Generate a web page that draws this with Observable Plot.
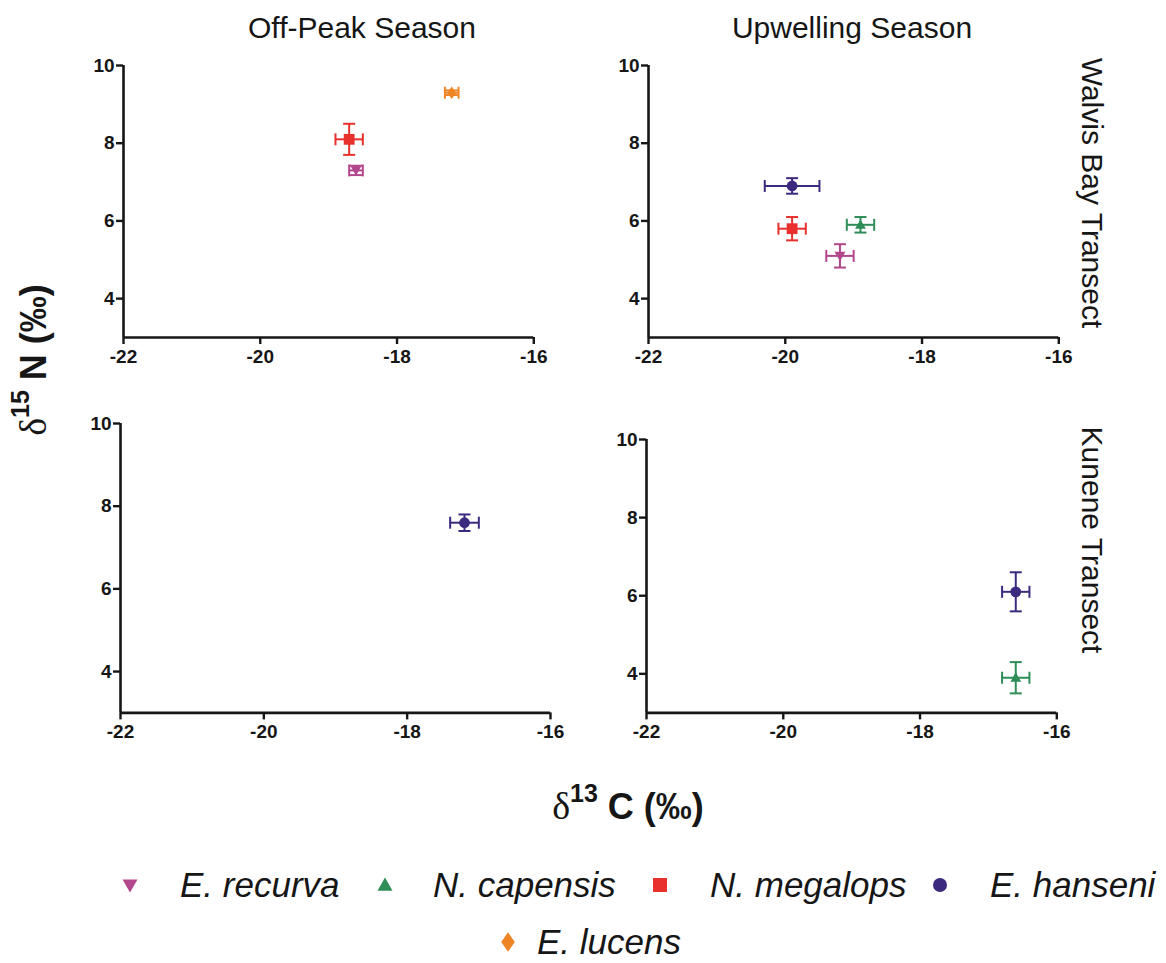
<!DOCTYPE html>
<html><head><meta charset="utf-8">
<script src="https://cdn.jsdelivr.net/npm/d3@7"></script>
<script src="https://cdn.jsdelivr.net/npm/@observablehq/plot@0.6"></script>
<style>
body{margin:0;background:#fff;font-family:"Liberation Sans",Arial,sans-serif;}
#root{position:relative;width:1166px;height:963px;overflow:hidden;background:#fff;color:#161616}
.abs{position:absolute;white-space:nowrap}
.title{font-size:30px;transform:translate(-50%,-50%)}
.side{font-size:30px;transform:translate(-50%,-50%) rotate(90deg)}
.axt{font-size:36px;font-weight:bold;transform:translate(-50%,-50%)}
.axt .d{font-family:"Liberation Serif","Times New Roman",serif;font-weight:normal;font-size:38px}
.axt sup{font-size:25px;position:relative;top:-3px;vertical-align:top;line-height:1}
.leg{font-size:35px;font-style:italic;transform:translateY(-50%)}
</style></head><body><div id="root"></div>
<script>
// ---- data ----
const species = ["E. recurva", "N. capensis", "N. megalops", "E. hanseni", "E. lucens"];
const speciesColors = ["#b3478d", "#2f8d57", "#e8302c", "#3c2a7f", "#ee8424"];
const seasons = ["Off-Peak Season", "Upwelling Season"];
const transects = ["Walvis Bay Transect", "Kunene Transect"];
const xTicks = [-22, -20, -18, -16];
const yTicks = [4, 6, 8, 10];
const xDomain = [-22, -16];
const yDomain = [3, 10];
// observations (mean ± error)
const obsSpecies  = ["N. megalops", "E. recurva", "E. lucens", "E. hanseni", "N. megalops", "N. capensis", "E. recurva", "E. hanseni", "E. hanseni", "N. capensis"];
const obsSeason   = [0, 0, 0, 1, 1, 1, 1, 0, 1, 1];
const obsTransect = [0, 0, 0, 0, 0, 0, 0, 1, 1, 1];
const d13C        = [-18.7, -18.6, -17.2, -19.9, -19.9, -18.9, -19.2, -17.2, -16.6, -16.6];
const d13CErr     = [0.2, 0.1, 0.1, 0.4, 0.2, 0.2, 0.2, 0.2, 0.2, 0.2];
const d15N        = [8.1, 7.3, 9.3, 6.9, 5.8, 5.9, 5.1, 7.6, 6.1, 3.9];
const d15NErr     = [0.4, 0.12, 0.06, 0.2, 0.3, 0.2, 0.3, 0.2, 0.5, 0.4];

const obs = obsSpecies.map((s, i) => ({species: s, season: obsSeason[i], transect: obsTransect[i],
  c: d13C[i], cs: d13CErr[i], n: d15N[i], ns: d15NErr[i]}));

// ---- symbols ----
const rad = size => Math.sqrt(size / Math.PI);
const triDown = {draw(ctx, size){ const r = rad(size); ctx.moveTo(0, r); ctx.lineTo(-r, -0.75*r); ctx.lineTo(r, -0.75*r); ctx.closePath(); }};
const triUp = {draw(ctx, size){ const r = rad(size); ctx.moveTo(0, -r); ctx.lineTo(-r, 0.75*r); ctx.lineTo(r, 0.75*r); ctx.closePath(); }};
const sq = {draw(ctx, size){ const r = rad(size); ctx.rect(-r, -r, 2*r, 2*r); }};
const circ = {draw(ctx, size){ const r = rad(size); ctx.moveTo(r, 0); ctx.arc(0, 0, r, 0, 2*Math.PI); }};
const diam = {draw(ctx, size){ const r = rad(size); ctx.moveTo(0, -r*1.15); ctx.lineTo(r*0.8, 0); ctx.lineTo(0, r*1.15); ctx.lineTo(-r*0.8, 0); ctx.closePath(); }};
const hCap = {draw(ctx, size){ const r = rad(size); ctx.moveTo(-r, 0); ctx.lineTo(r, 0); }};
const vCap = {draw(ctx, size){ const r = rad(size); ctx.moveTo(0, -r); ctx.lineTo(0, r); }};
const symbolOf = {"E. recurva": triDown, "N. capensis": triUp, "N. megalops": sq, "E. hanseni": circ, "E. lucens": diam};

const root = document.getElementById("root");
function addDiv(cls, html, x, y){
  const d = document.createElement("div");
  d.className = "abs " + cls; d.innerHTML = html;
  d.style.left = x + "px"; d.style.top = y + "px";
  root.appendChild(d); return d;
}

// ---- panels (plot frame boxes) ----
const boxes = [
  {s: 0, t: 0, left: 122.7, top: 64.7, w: 410.3, h: 272},
  {s: 1, t: 0, left: 647.7, top: 64.7, w: 410.3, h: 272},
  {s: 0, t: 1, left: 120, top: 423.3, w: 430, h: 289.4},
  {s: 1, t: 1, left: 645.7, top: 439.3, w: 410.3, h: 273.4}
];
const ml = 60, mr = 20, mt = 14, mb = 45;
const ink = "#161616";

for (const b of boxes) {
  const rows = obs.filter(d => d.season === b.s && d.transect === b.t);
  const capStyle = {stroke: "species", strokeWidth: 2, fill: "none", r: 6};
  const marks = [
    Plot.ruleX([xDomain[0]], {stroke: ink, strokeWidth: 2.6}),
    Plot.ruleY([yDomain[0]], {stroke: ink, strokeWidth: 2.6}),
    Plot.axisX({ticks: xTicks, tickSize: 7, tickPadding: 5, tickFormat: d => String(d), label: null,
      fontSize: 19, fontWeight: "bold", stroke: ink, fill: ink, strokeWidth: 2.4}),
    Plot.axisY({ticks: yTicks, tickSize: 7, tickPadding: 2, tickFormat: d => String(d), label: null,
      fontSize: 19, fontWeight: "bold", stroke: ink, fill: ink, strokeWidth: 2.4}),
    Plot.ruleY(rows, {y: "n", x1: d => d.c - d.cs, x2: d => d.c + d.cs, stroke: "species", strokeWidth: 2}),
    Plot.ruleX(rows, {x: "c", y1: d => d.n - d.ns, y2: d => d.n + d.ns, stroke: "species", strokeWidth: 2}),
    Plot.dot(rows, {x: d => d.c - d.cs, y: "n", symbol: vCap, ...capStyle}),
    Plot.dot(rows, {x: d => d.c + d.cs, y: "n", symbol: vCap, ...capStyle}),
    Plot.dot(rows, {x: "c", y: d => d.n - d.ns, symbol: hCap, ...capStyle}),
    Plot.dot(rows, {x: "c", y: d => d.n + d.ns, symbol: hCap, ...capStyle}),
    ...species.map(sp => Plot.dot(rows.filter(d => d.species === sp),
      {x: "c", y: "n", symbol: symbolOf[sp], r: 5.4, fill: "species", stroke: "none"}))
  ];
  const svg = Plot.plot({
    width: b.w + ml + mr, height: b.h + mt + mb,
    marginLeft: ml, marginRight: mr, marginTop: mt, marginBottom: mb,
    x: {domain: xDomain}, y: {domain: yDomain},
    color: {domain: species, range: speciesColors},
    style: {fontFamily: "'Liberation Sans', Arial, sans-serif", background: "transparent", overflow: "visible"},
    marks
  });
  svg.style.position = "absolute";
  svg.style.left = (b.left - ml) + "px";
  svg.style.top = (b.top - mt) + "px";
  root.appendChild(svg);
}

// ---- titles ----
addDiv("title", seasons[0], 362, 28);
addDiv("title", seasons[1], 852, 28);
addDiv("side", transects[0], 1092, 193);
addDiv("side", transects[1], 1092, 540);

// ---- axis titles ----
addDiv("axt", '<span class="d">δ</span><sup>13</sup>&nbsp;C (‰)', 628, 806);
const yt = addDiv("axt", '<span class="d">δ</span><sup>15</sup>&nbsp;N (‰)', 33, 360);
yt.style.transform = "translate(-50%,-50%) rotate(-90deg)";

// ---- legend ----
const legendPos = [
  {mx: 130, tx: 180, y: 885}, {mx: 385, tx: 433, y: 885}, {mx: 660, tx: 710, y: 885},
  {mx: 940, tx: 990, y: 885}, {mx: 508, tx: 537, y: 942}
];
const legR = {"E. recurva": 7.5, "N. capensis": 7.5, "N. megalops": 7, "E. hanseni": 7, "E. lucens": 8.5};
species.forEach((sp, i) => {
  const p = legendPos[i];
  const path = d3.path();
  const r = legR[sp];
  symbolOf[sp].draw(path, r * r * Math.PI);
  const s = document.createElementNS("http://www.w3.org/2000/svg", "svg");
  s.setAttribute("width", 30); s.setAttribute("height", 30);
  s.setAttribute("viewBox", "-15 -15 30 30");
  s.style.position = "absolute"; s.style.left = (p.mx - 15) + "px"; s.style.top = (p.y - 15) + "px";
  const pe = document.createElementNS("http://www.w3.org/2000/svg", "path");
  pe.setAttribute("d", path.toString()); pe.setAttribute("fill", speciesColors[i]);
  s.appendChild(pe); root.appendChild(s);
  addDiv("leg", sp, p.tx, p.y);
});
</script></body></html>
